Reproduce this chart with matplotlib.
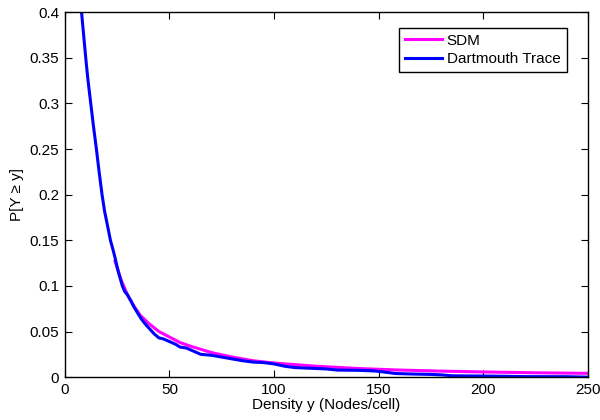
import numpy as np
import matplotlib
matplotlib.use("Agg")
import matplotlib.pyplot as plt
from matplotlib.ticker import FuncFormatter

plt.rcParams['font.family'] = ['Liberation Sans', 'DejaVu Sans']

# SDM model curve
sdm_x = [24, 27, 30, 33, 36, 40, 45, 50, 55, 60, 70, 80, 90, 100,
         120, 140, 160, 180, 200, 225, 250]
sdm_p = [0.127, 0.106, 0.090, 0.078, 0.068, 0.059, 0.050, 0.044, 0.038,
         0.034, 0.027, 0.022, 0.018, 0.0155, 0.012, 0.0095, 0.0078,
         0.0066, 0.0057, 0.0048, 0.0042]

# Dartmouth trace
trace_x = [8, 9, 10, 11, 12.4, 13.7, 15.1, 16.4, 17.8, 19, 20.5, 21.8, 23,
           24, 25.4, 26.5, 27.5, 28.6, 30, 31.7, 33, 34.9, 36.5, 38.9, 40.5,
           42.9, 44, 45, 47, 50, 53, 55, 58, 60, 63, 65, 70, 75, 80, 85, 90,
           95, 100, 105, 110, 115, 120, 125, 130, 140, 148, 152, 158, 165,
           175, 180, 185, 200, 210, 220, 240, 250]
trace_p = [0.400, 0.375, 0.350, 0.327, 0.300, 0.275, 0.250, 0.225, 0.200,
           0.182, 0.165, 0.150, 0.140, 0.131, 0.117, 0.108, 0.100, 0.094,
           0.090, 0.083, 0.077, 0.070, 0.064, 0.057, 0.053, 0.047, 0.045,
           0.043, 0.042, 0.039, 0.036, 0.033, 0.032, 0.030, 0.027, 0.025,
           0.024, 0.022, 0.020, 0.018, 0.0165, 0.016, 0.0145, 0.012, 0.0105,
           0.010, 0.0095, 0.009, 0.0078, 0.0075, 0.0068, 0.0058, 0.004,
           0.0035, 0.003, 0.0025, 0.0015, 0.0012, 0.001, 0.0006, 0.0005, 0.0]

xticks = [0, 50, 100, 150, 200, 250]
yticks = [0, 0.05, 0.1, 0.15, 0.2, 0.25, 0.3, 0.35, 0.4]

fig = plt.figure(figsize=(6, 4.2), dpi=100)
ax = fig.add_axes([0.108, 0.102, 0.872, 0.869])

ax.plot(sdm_x, sdm_p, color='#ff00ff', lw=2.2, label='SDM')
ax.plot(trace_x, trace_p, color='#0000ff', lw=2.2, label='Dartmouth Trace')

ax.set_xlim(0, 250)
ax.set_ylim(0, 0.4)
ax.set_xticks(xticks)
ax.set_yticks(yticks)
ax.yaxis.set_major_formatter(FuncFormatter(lambda v, p: '%g' % v))
ax.tick_params(direction='in', top=True, right=True, labelsize=11,
               length=5, width=0.8, pad=4)
for s in ax.spines.values():
    s.set_linewidth(1.0)

ax.set_xlabel('Density y (Nodes/cell)', fontsize=11, labelpad=1)
ax.set_ylabel('P[Y \u2265 y]', fontsize=11, labelpad=4)

leg = ax.legend(loc='upper right', bbox_to_anchor=(0.959, 0.958),
                borderaxespad=0, fancybox=False, framealpha=1,
                edgecolor='black', fontsize=11, handlelength=2.4,
                borderpad=0.4, labelspacing=0.3, handletextpad=0.3)
leg.get_frame().set_linewidth(1.0)

fig.savefig('out.png', dpi=100)
